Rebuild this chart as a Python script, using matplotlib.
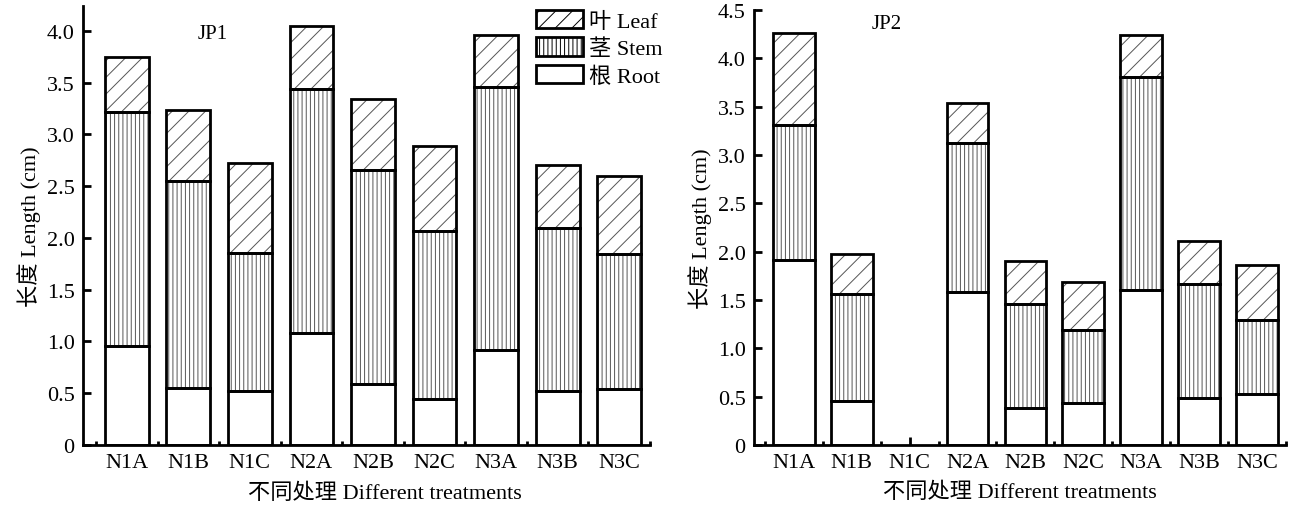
import matplotlib.pyplot as plt
import matplotlib.patches as mpatches
from matplotlib.ticker import MultipleLocator, FuncFormatter
import numpy as np

plt.rcParams['font.family'] = ['Liberation Serif', 'Noto Sans CJK SC']
plt.rcParams['hatch.linewidth'] = 0.7

treatments = ['N1A', 'N1B', 'N1C', 'N2A', 'N2B', 'N2C', 'N3A', 'N3B', 'N3C']

# JP1 cumulative tops
jp1_root = [0.96, 0.55, 0.52, 1.08, 0.59, 0.44, 0.92, 0.52, 0.54]
jp1_stem_top = [3.22, 2.55, 1.85, 3.44, 2.66, 2.07, 3.46, 2.10, 1.84]
jp1_leaf_top = [3.75, 3.24, 2.72, 4.05, 3.34, 2.89, 3.96, 2.70, 2.60]

# JP2 (N1C missing)
jp2_root = [1.91, 0.45, 0, 1.58, 0.38, 0.43, 1.60, 0.49, 0.53]
jp2_stem_top = [3.31, 1.56, 0, 3.12, 1.46, 1.19, 3.81, 1.67, 1.29]
jp2_leaf_top = [4.26, 1.98, 0, 3.54, 1.90, 1.69, 4.24, 2.11, 1.86]

fig = plt.figure(figsize=(12.91, 5.06), dpi=100)
ax1 = fig.add_axes([0.0643, 0.1186, 0.4392, 0.8676])
ax2 = fig.add_axes([0.584, 0.1186, 0.412, 0.8597])


def draw(ax, root, stem_top, leaf_top, ymax, xlim, tag, tag_pos, width, xlab_x):
    x = np.arange(len(treatments))
    root = np.array(root)
    stem = np.array(stem_top) - root
    leaf = np.array(leaf_top) - np.array(stem_top)
    has = np.array(leaf_top) > 0
    xs = x[has]
    segs = [(root[has], 0, ''), (stem[has], root[has], '||||'),
            (leaf[has], np.array(stem_top)[has], '//')]
    for h, b, hatch in segs:
        ax.bar(xs, h, width, bottom=b, color='white', edgecolor='#555555',
               linewidth=0, hatch=hatch, zorder=2)
        ax.bar(xs, h, width, bottom=b, facecolor='none', edgecolor='black',
               linewidth=2, zorder=3)
    ax.set_xlim(*xlim)
    ax.set_ylim(0, ymax)
    ax.set_xticks(x)
    ax.set_xticklabels(treatments)
    ax.set_xticks(np.arange(-0.5, len(treatments)), minor=True)
    ax.yaxis.set_major_locator(MultipleLocator(0.5))
    ax.yaxis.set_major_formatter(FuncFormatter(lambda v, p: '0' if v == 0 else f'{v:.1f}'))
    for s in ['top', 'right']:
        ax.spines[s].set_visible(False)
    for s in ['left', 'bottom']:
        ax.spines[s].set_linewidth(2)
    ax.tick_params(axis='both', which='major', direction='in', length=6,
                   width=2, labelsize=16, pad=6)
    ax.tick_params(axis='x', which='minor', direction='in', length=3, width=2)
    ax.set_xlabel('不同处理 Different treatments', fontsize=16, labelpad=2)
    ax.xaxis.set_label_coords(xlab_x, -0.085)
    ax.set_ylabel('长度 Length (cm)', fontsize=16, labelpad=4)
    ax.text(tag_pos[0], tag_pos[1], tag, transform=ax.transAxes, fontsize=15,
            ha='center', va='center')


draw(ax1, jp1_root, jp1_stem_top, jp1_leaf_top, 4.24, (-0.71, 8.5), 'JP1',
     (0.229, 0.938), 0.71, 0.533)
draw(ax2, jp2_root, jp2_stem_top, jp2_leaf_top, 4.5, (-0.69, 8.5), 'JP2',
     (0.25, 0.968), 0.72, 0.5)

handles = [
    mpatches.Patch(facecolor='white', edgecolor='black', linewidth=2, hatch='//', label='叶 Leaf'),
    mpatches.Patch(facecolor='white', edgecolor='black', linewidth=2, hatch='||||', label='茎 Stem'),
    mpatches.Patch(facecolor='white', edgecolor='black', linewidth=2, label='根 Root'),
]
ax1.legend(handles=handles, loc='upper right', bbox_to_anchor=(1.046, 1.022),
           frameon=False, fontsize=16, handlelength=2.1, handleheight=0.9,
           labelspacing=0.26, handletextpad=0.3, borderaxespad=0.2)

fig.savefig('out.png', dpi=100)
